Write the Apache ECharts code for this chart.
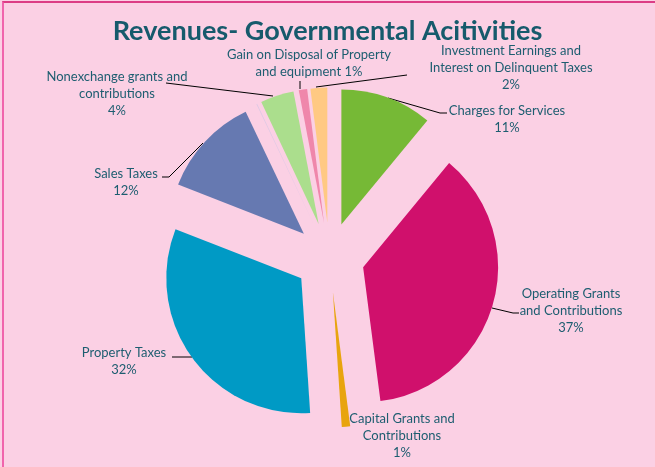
<!DOCTYPE html>
<html>
<head>
<meta charset="utf-8">
<title>Revenues- Governmental Acitivities</title>
<script src="https://cdn.jsdelivr.net/npm/echarts@6/dist/echarts.min.js"></script>
<style>
  html, body { margin: 0; padding: 0; background: #fbd0e4; overflow: hidden; }
  #frame {
    position: absolute; left: 2px; top: 1px; width: 700px; height: 520px;
    border-top: 2px solid #dc3d85; border-left: 2px solid #f064ac;
  }
  #chart { position: absolute; left: 0; top: 0; width: 655px; height: 467px; }
</style>
</head>
<body>
<div id="frame"></div>
<div id="chart"></div>
<script>
// Revenue sources (display names carry their own line breaks)
const categories = [
  'Charges for Services',
  'Operating Grants\nand Contributions',
  'Capital Grants and\nContributions',
  'Property Taxes',
  'Sales Taxes',
  'Miscellaneous',
  'Nonexchange grants and\ncontributions',
  'Gain on Disposal of Property\nand equipment',
  'Investment Earnings and\nInterest on Delinquent Taxes'
];
// Share of revenues, percent
const values = [11, 37, 1, 32, 12, 0.1, 4, 1, 2];
// Separator between name and percentage in each label
const percentSeparators = ['\n', '\n', '\n', '\n', '\n', '\n', '\n', ' ', '\n'];

const sliceColors = ['#76b936', '#d0106c', '#e8a40e', '#009ac5', '#6679b1',
                     '#dcc8e4', '#abde8d', '#ef87ab', '#ffc983'];

// Label block centres and leader lines
const labelSpots = [
  [507, 119], [571, 311], [402, 436], [124, 361], [126, 182],
  null, [117, 94], [309, 63], [511, 68]
];
const leaderLines = [
  [[388, 98], [440, 113], [447, 113]],
  [[492, 308], [513, 313], [519, 313]],
  null,
  [[192, 357], [172, 357]],
  [[203, 143], [169, 177], [162, 177]],
  null,
  [[273, 96], [166, 83]],
  [[300, 89], [300, 81]],
  [[316, 87], [407, 75]]
];

const textColor = '#1d5d70';
const fontFamily = 'Lato, "Open Sans", sans-serif';
const pieCenter = [329.5, 257.5];
const pieRadius = 135;

// Exploded slices
const sliceData = categories.map((name, i) => ({
  name: name,
  value: values[i],
  selected: true,
  itemStyle: { color: sliceColors[i] }
}));

// Same values again, invisible, carrying the labels and leader lines
const labelData = categories.map((name, i) => {
  const item = { name: name, value: values[i] };
  if (!labelSpots[i]) {
    item.label = { show: false };
    item.labelLine = { show: false };
  } else if (!leaderLines[i]) {
    item.labelLine = { show: false };
  }
  return item;
});

const chart = echarts.init(document.getElementById('chart'), null, { renderer: 'canvas' });
chart.setOption({
  backgroundColor: 'transparent',
  animation: false,
  title: {
    text: 'Revenues- Governmental Acitivities',
    left: 'center',
    top: 18,
    padding: [0, 0, 0, 6],
    textStyle: {
      fontFamily: fontFamily,
      fontWeight: 'bold',
      fontSize: 27,
      lineHeight: 27,
      color: '#165a6c'
    }
  },
  series: [{
    type: 'pie',
    center: pieCenter,
    radius: pieRadius,
    startAngle: 90,
    clockwise: true,
    selectedMode: 'multiple',
    selectedOffset: 35,
    silent: true,
    emphasis: { disabled: true },
    itemStyle: { borderWidth: 0 },
    label: { show: false },
    labelLine: { show: false },
    data: sliceData
  }, {
    type: 'pie',
    center: pieCenter,
    radius: pieRadius,
    startAngle: 90,
    clockwise: true,
    selectedMode: false,
    silent: true,
    percentPrecision: 0,
    avoidLabelOverlap: false,
    emphasis: { disabled: true },
    itemStyle: { color: 'rgba(0,0,0,0)', borderWidth: 0 },
    label: {
      show: true,
      position: 'outside',
      color: textColor,
      fontFamily: fontFamily,
      fontSize: 13,
      lineHeight: 17,
      align: 'center',
      formatter: (p) => p.name + percentSeparators[p.dataIndex] + p.percent + '%'
    },
    labelLine: {
      show: true,
      lineStyle: { color: '#000000', width: 1, opacity: 1 }
    },
    labelLayout: (params) => {
      const spot = labelSpots[params.dataIndex];
      if (!spot) return {};
      const layout = { x: spot[0], y: spot[1], align: 'center', verticalAlign: 'middle' };
      if (leaderLines[params.dataIndex]) layout.labelLinePoints = leaderLines[params.dataIndex];
      return layout;
    },
    data: labelData
  }]
});
</script>
</body>
</html>
